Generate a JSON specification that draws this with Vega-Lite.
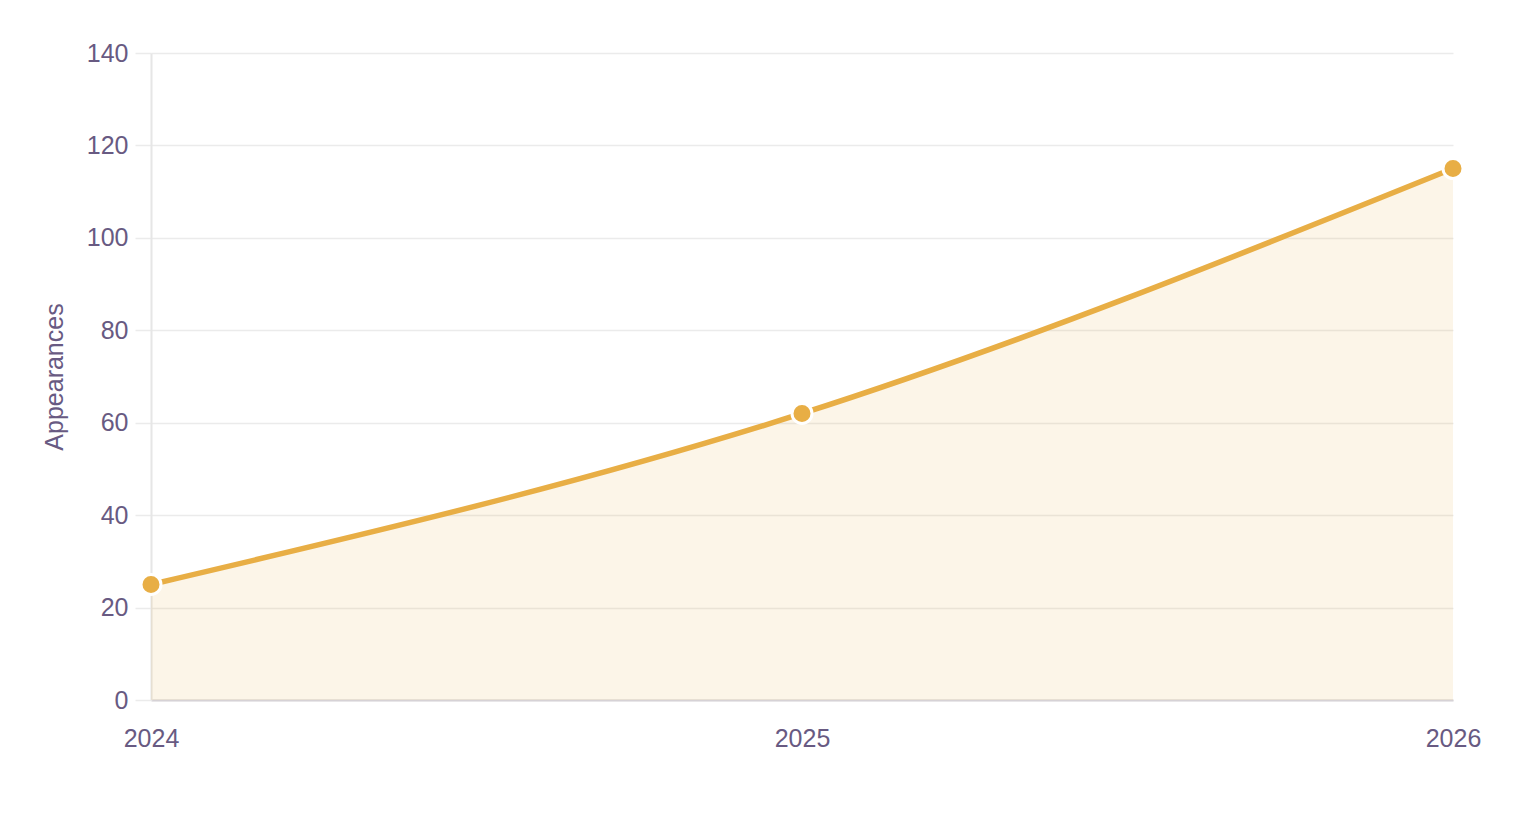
{
  "$schema": "https://vega.github.io/schema/vega-lite/v6.json",
  "autosize": {"type": "none"},
  "padding": {"left": 151, "top": 53, "right": 67, "bottom": 140},
  "width": 1302,
  "height": 647,
  "background": "white",
  "config": {
    "view": {"stroke": null},
    "font": "Liberation Sans",
    "axis": {
      "labelFont": "Liberation Sans",
      "titleFont": "Liberation Sans",
      "labelFontSize": 25,
      "titleFontSize": 25,
      "labelColor": "#685a82",
      "titleColor": "#685a82",
      "titleFontWeight": "normal",
      "gridColor": "#ebebeb",
      "gridWidth": 1.5,
      "labelOverlap": false
    }
  },
  "data": {
    "values": [
      {"year": "2024", "appearances": 25},
      {"year": "2025", "appearances": 62},
      {"year": "2026", "appearances": 115}
    ]
  },
  "encoding": {
    "x": {
      "field": "year",
      "type": "ordinal",
      "scale": {"type": "point", "padding": 0},
      "axis": {
        "title": null,
        "grid": false,
        "ticks": false,
        "labelAngle": 0,
        "labelPadding": 26,
        "domainColor": "#d6d2d6",
        "domainWidth": 2
      }
    },
    "y": {
      "field": "appearances",
      "type": "quantitative",
      "scale": {"domain": [0, 140], "nice": false},
      "axis": {
        "values": [0, 20, 40, 60, 80, 100, 120, 140],
        "title": "Appearances",
        "titlePadding": 19,
        "tickSize": 16,
        "tickColor": "#ebebeb",
        "tickWidth": 1.5,
        "labelPadding": 7,
        "domainColor": "#e6e6e6",
        "domainWidth": 2
      }
    }
  },
  "layer": [
    {
      "mark": {"type": "area", "interpolate": "monotone", "color": "#e8ae45", "opacity": 0.12}
    },
    {
      "mark": {"type": "line", "interpolate": "monotone", "color": "#e8ae45", "strokeWidth": 5.5}
    },
    {
      "mark": {"type": "point", "shape": "circle", "filled": true, "size": 400, "color": "#e8ae45", "stroke": "white", "strokeWidth": 3, "opacity": 1}
    }
  ]
}
